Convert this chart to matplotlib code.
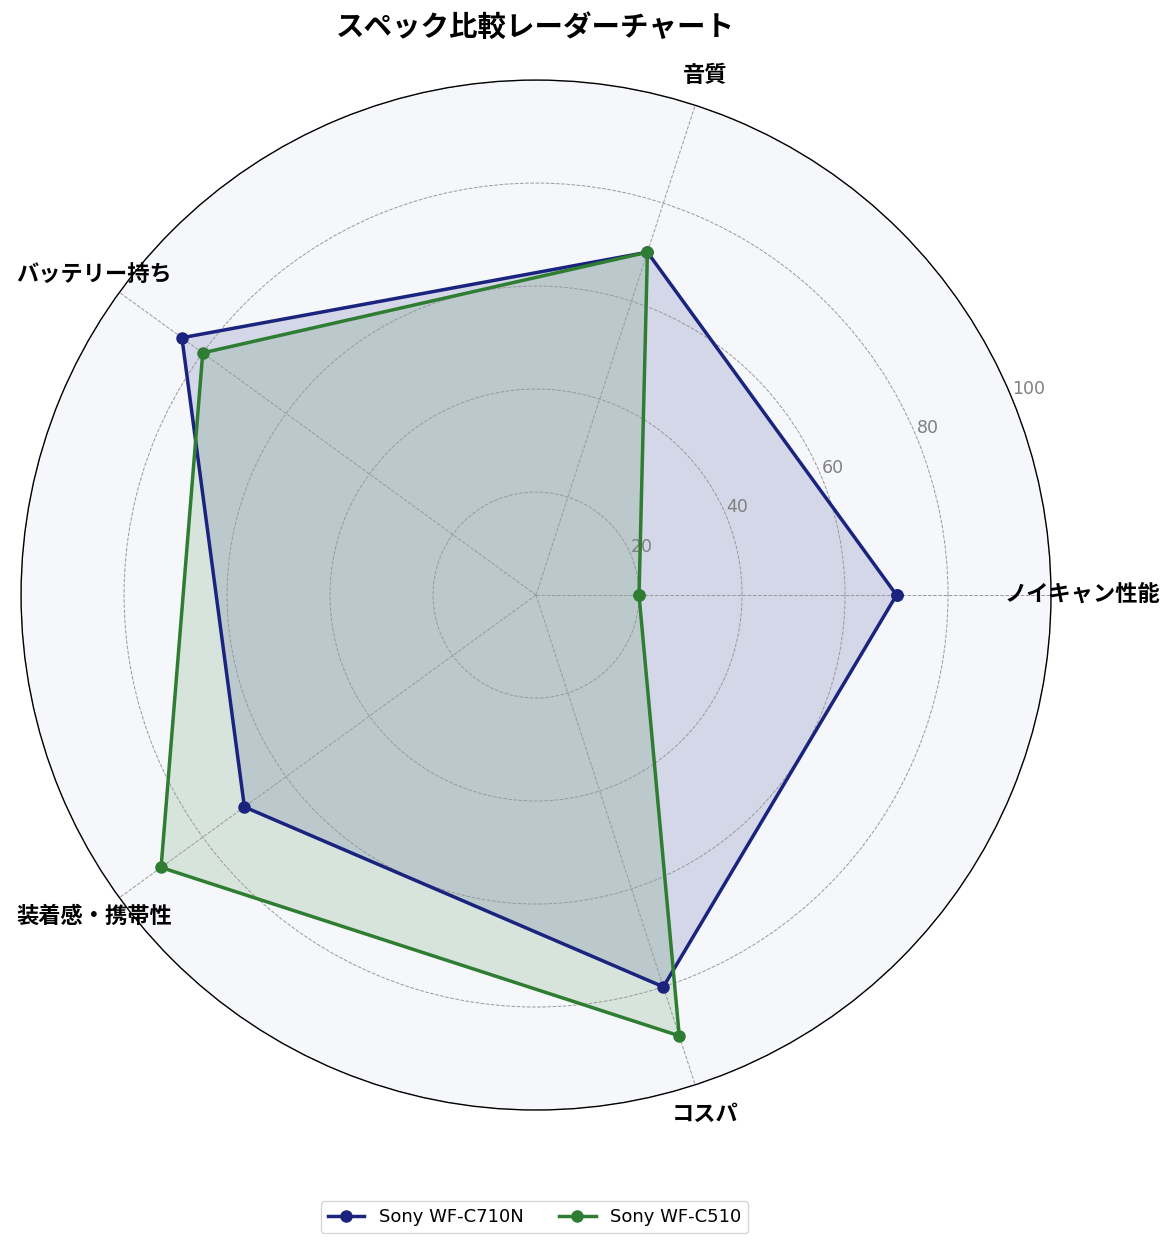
import numpy as np
import matplotlib.pyplot as plt

plt.rcParams['font.family'] = ['Noto Sans CJK JP', 'DejaVu Sans']

categories = ['ノイキャン性能', '音質', 'バッテリー持ち', '装着感・携帯性', 'コスパ']
c710n = [70, 70, 85, 70, 80]
c510 = [20, 70, 80, 90, 90]
series_names = ['Sony WF-C710N', 'Sony WF-C510']
colors = ['#1a237e', '#2e7d32']
r_ticks = [20, 40, 60, 80, 100]

n = len(categories)
angles = np.linspace(0, 2 * np.pi, n, endpoint=False).tolist()
angles_closed = angles + angles[:1]

fig = plt.figure(figsize=(11.75, 12.51), dpi=100)
ax = fig.add_axes([0.0179, 0.1127, 0.8766, 0.8233], polar=True)
ax.set_facecolor('#f5f7fa')

for vals, name, col in zip([c710n, c510], series_names, colors):
    v = vals + vals[:1]
    ax.plot(angles_closed, v, color=col, linewidth=2.5, marker='o', markersize=8, label=name)
    ax.fill(angles_closed, v, color=col, alpha=0.15)

ax.set_ylim(0, 100)
ax.set_yticks(r_ticks)
ax.set_yticklabels([str(t) for t in r_ticks], color='#808080', fontsize=12.5,
                   family='DejaVu Sans')
ax.set_rlabel_position(22.5)
ax.set_xticks(angles)
ax.set_xticklabels(categories, fontsize=16, fontweight='bold')
ax.tick_params(axis='x', pad=12)
ax.grid(color='#999999', linestyle='--', linewidth=0.7)
ax.spines['polar'].set_color('black')
ax.spines['polar'].set_linewidth(1.0)

fig.text(0.456, 0.978, 'スペック比較レーダーチャート', fontsize=20.5, fontweight='bold',
         ha='center', va='center')

fig.legend(loc='center', bbox_to_anchor=(0.455, 0.027), ncol=2,
           prop={'family': 'DejaVu Sans', 'size': 13},
           frameon=True, edgecolor='#cccccc')

fig.savefig('out.png', dpi=100)
